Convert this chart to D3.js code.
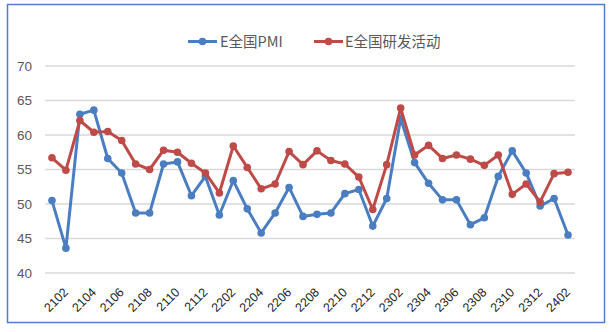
<!DOCTYPE html>
<html><head><meta charset="utf-8">
<script src="https://cdn.jsdelivr.net/npm/d3@7/dist/d3.min.js"></script>
<style>body{margin:0;background:#fff}svg{display:block}</style>
</head><body>
<svg id="c" width="612" height="332"></svg>
<script>
const months = ["2101","2102","2103","2104","2105","2106","2107","2108","2109","2110","2111","2112",
"2201","2202","2203","2204","2205","2206","2207","2208","2209","2210","2211","2212",
"2301","2302","2303","2304","2305","2306","2307","2308","2309","2310","2311","2312",
"2401","2402"];
const pmi = [50.5,43.6,63.0,63.6,56.6,54.5,48.7,48.7,55.8,56.1,51.2,54.0,
48.4,53.4,49.3,45.8,48.7,52.4,48.2,48.5,48.7,51.5,52.1,46.8,
50.8,62.4,56.0,53.0,50.6,50.6,47.0,48.0,54.0,57.7,54.5,49.7,50.8,45.5];
const rnd = [56.7,54.9,62.1,60.4,60.5,59.2,55.8,55.0,57.8,57.5,55.9,54.5,
51.6,58.4,55.3,52.2,52.9,57.6,55.7,57.7,56.3,55.8,53.9,49.2,
55.7,63.9,57.1,58.5,56.6,57.1,56.5,55.6,57.1,51.4,52.9,50.3,54.4,54.6];
const yTicks = [40,45,50,55,60,65,70];
const seriesNames = ["E全国PMI","E全国研发活动"];
const colors = ["#4A7EC0","#BE4B48"];

const svg = d3.select("#c");
const font = "'Liberation Sans', Arial, sans-serif";
const cjk = "'Noto Sans CJK SC', sans-serif";

svg.append("rect").attr("x",7.5).attr("y",4.5).attr("width",597).attr("height",318)
  .attr("fill","#fff").attr("stroke","#4F7FC8").attr("stroke-width",1.5);

const x = d3.scaleBand().domain(months).range([45,575]);
const y = d3.scaleLinear().domain([40,70]).range([273,66]);

// gridlines
svg.append("g").selectAll("line").data(yTicks).join("line")
  .attr("x1",45).attr("x2",575).attr("y1",d=>y(d)).attr("y2",d=>y(d))
  .attr("stroke","#D9D9D9").attr("stroke-width",1.3);

// y axis
const yAxis = svg.append("g").attr("transform","translate(45,0)")
  .call(d3.axisLeft(y).tickValues(yTicks).tickSize(0).tickPadding(13));
yAxis.select(".domain").remove();
yAxis.selectAll("text").attr("fill","#595959").attr("font-size",13.5).attr("font-family",font);

// x axis labels
const xAxis = svg.append("g").attr("transform","translate(0,273)")
  .call(d3.axisBottom(x).tickValues(months.filter(m=>+m.slice(2)%2===0)).tickSize(0).tickPadding(0));
xAxis.select(".domain").remove();
xAxis.selectAll("text").attr("fill","#262626").attr("font-size",12.5).attr("font-family",font)
  .attr("text-anchor","end").attr("dy",0).attr("y",0)
  .attr("transform","translate(3,20) rotate(-45)");

const line = d3.line().x((d,i)=>x(months[i])+x.bandwidth()/2).y(d=>y(d));
[pmi,rnd].forEach((s,k)=>{
  const g = svg.append("g");
  g.append("path").datum(s).attr("d",line).attr("fill","none")
    .attr("stroke",colors[k]).attr("stroke-width",3).attr("stroke-linejoin","round");
  g.selectAll("circle").data(s).join("circle")
    .attr("cx",(d,i)=>x(months[i])+x.bandwidth()/2).attr("cy",d=>y(d)).attr("r",3.8)
    .attr("fill",colors[k]);
});

// legend
const leg = [{x:188,tx:220},{x:314,tx:345}];
leg.forEach((l,k)=>{
  const g = svg.append("g");
  g.append("line").attr("x1",l.x).attr("x2",l.x+29).attr("y1",41.5).attr("y2",41.5)
    .attr("stroke",colors[k]).attr("stroke-width",3);
  g.append("circle").attr("cx",l.x+14.5).attr("cy",41.5).attr("r",3.8).attr("fill",colors[k]);
  g.append("text").attr("x",l.tx).attr("y",47).text(seriesNames[k])
    .attr("fill","#595959").attr("font-size",14.5).attr("font-family",cjk);
});
</script>
</body></html>
